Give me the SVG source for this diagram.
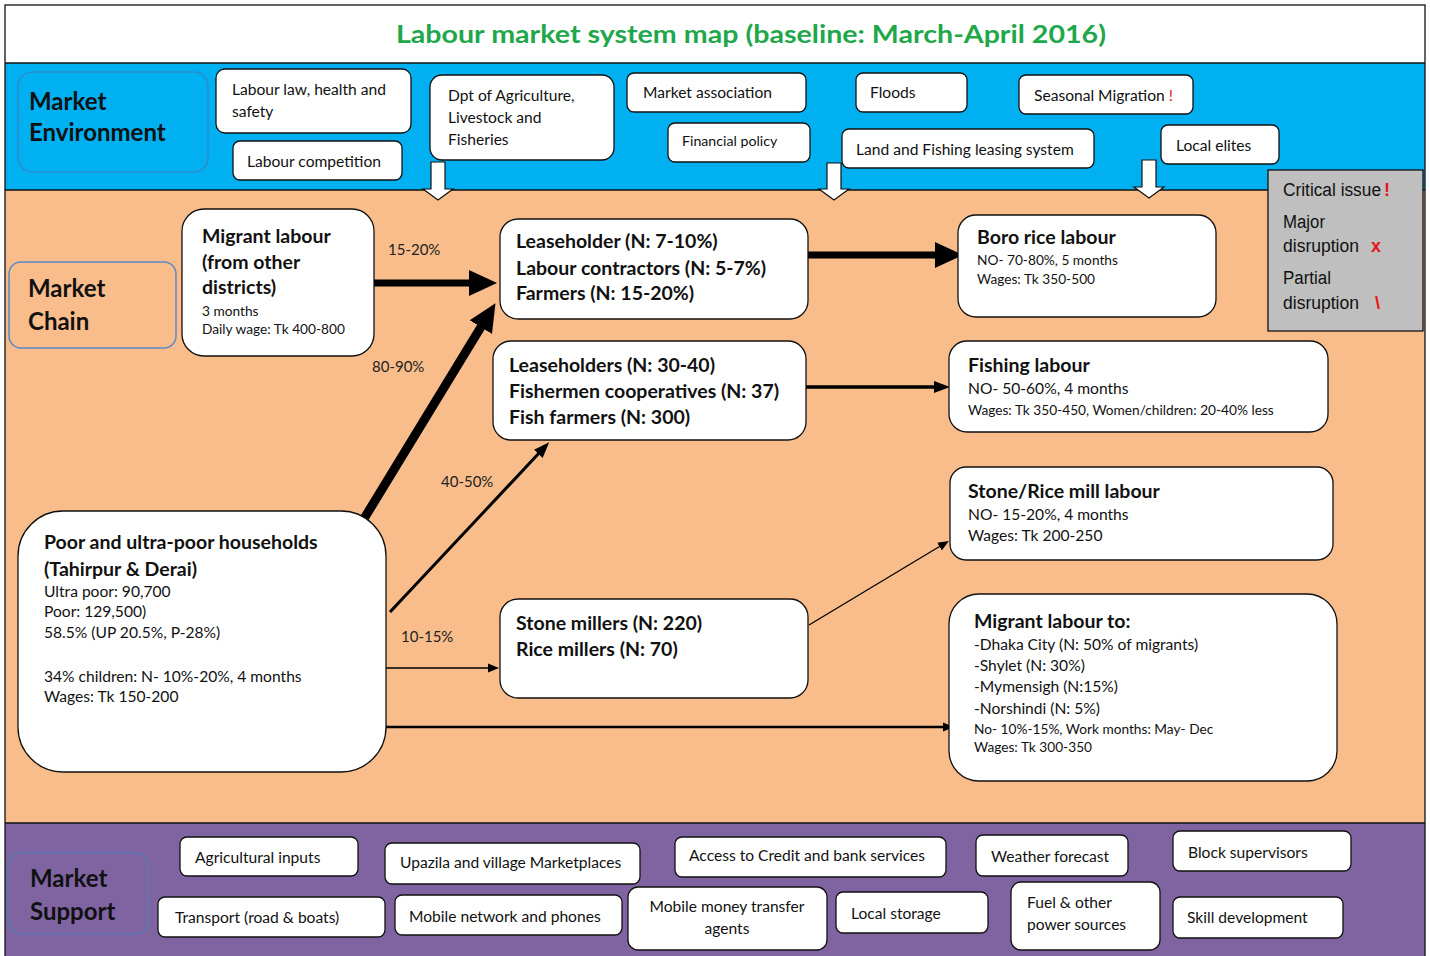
<svg xmlns="http://www.w3.org/2000/svg" width="1430" height="956" viewBox="0 0 1430 956">
<style>
text{font-family:Lato,"Open Sans","Liberation Sans",sans-serif;fill:#111}
.box{fill:#fff;stroke:#111;stroke-width:1.3}
.env{font-size:15.6px}
.hd{font-size:24px;font-weight:bold}
.nt{font-size:19.5px;font-weight:bold}
.sm{font-size:13.7px}
.md{font-size:15.6px}
.lbl{font-size:15px;fill:#222}
.red{fill:#e8161b}
.leg{font-size:18px;font-family:"Liberation Sans",Arial,sans-serif}
.blk{fill:#fff;stroke:#111;stroke-width:1.2}
</style>
<defs>
<marker id="big" markerUnits="userSpaceOnUse" markerWidth="30" markerHeight="28" refX="6" refY="14" orient="auto"><path d="M0,1 L28,14 L0,27 z" fill="#000"/></marker>
<marker id="mid" markerUnits="userSpaceOnUse" markerWidth="18" markerHeight="14" refX="4" refY="7" orient="auto"><path d="M0,1 L16,7 L0,13 z" fill="#000"/></marker>
<marker id="sml" markerUnits="userSpaceOnUse" markerWidth="12" markerHeight="10" refX="3" refY="5" orient="auto"><path d="M0,0.5 L11,5 L0,9.5 z" fill="#000"/></marker>
</defs>
<!-- bands -->
<rect x="5" y="5" width="1420" height="58" fill="#fff"/>
<rect x="5" y="63" width="1420" height="127" fill="#00b0f0"/>
<rect x="5" y="190" width="1420" height="633" fill="#f8bd8b"/>
<rect x="5" y="823" width="1420" height="133" fill="#8064a2"/>
<g stroke="#111" stroke-width="1.3" fill="none">
<rect x="5" y="5" width="1420" height="955"/>
<line x1="5" y1="63" x2="1425" y2="63"/>
<line x1="5" y1="190" x2="1425" y2="190"/>
<line x1="5" y1="823" x2="1425" y2="823"/>
</g>
<text x="751" y="43" text-anchor="middle" font-size="25" font-weight="bold" style="fill:#1fa74b" textLength="710" lengthAdjust="spacingAndGlyphs">Labour market system map (baseline: March-April 2016)</text>

<!-- section labels -->
<g id="label-environment">
<rect x="18" y="72" width="190" height="100" rx="14" fill="#00b0f0" stroke="#3f7fc0" stroke-width="1.2"/>
<text class="hd" x="29" y="110">Market</text>
<text class="hd" x="29" y="141">Environment</text>
</g>
<g id="label-chain">
<rect x="9" y="262" width="167" height="86" rx="12" fill="#f8bd8b" stroke="#5b8ac6" stroke-width="1.5"/>
<text class="hd" x="28" y="297">Market</text>
<text class="hd" x="28" y="330">Chain</text>
</g>
<g id="label-support">
<rect x="9" y="853" width="139" height="81" rx="12" fill="#8064a2" stroke="#4f7fb8" stroke-width="1.2"/>
<text class="hd" x="30" y="887">Market</text>
<text class="hd" x="30" y="920">Support</text>
</g>

<!-- environment boxes -->
<g id="env-labour-law"><rect class="box" x="216" y="69" width="195" height="64" rx="9"/><text class="env" x="232" y="95">Labour law, health and</text><text class="env" x="232" y="117">safety</text></g>
<g id="env-labour-competition"><rect class="box" x="233" y="141" width="169" height="39" rx="7"/><text class="env" x="247" y="167">Labour competition</text></g>
<g id="env-dpt"><rect class="box" x="430" y="75" width="184" height="85" rx="12"/><text class="env" x="448" y="101">Dpt of Agriculture,</text><text class="env" x="448" y="123">Livestock and</text><text class="env" x="448" y="145">Fisheries</text></g>
<g id="env-market-association"><rect class="box" x="627" y="73" width="179" height="39" rx="7"/><text class="env" x="643" y="98">Market association</text></g>
<g id="env-financial-policy"><rect class="box" x="668" y="123" width="142" height="39" rx="7"/><text x="682" y="146" font-size="14.2">Financial policy</text></g>
<g id="env-floods"><rect class="box" x="856" y="73" width="111" height="39" rx="7"/><text class="env" x="870" y="98">Floods</text></g>
<g id="env-seasonal-migration"><rect class="box" x="1019" y="75" width="174" height="39" rx="7"/><text class="env" x="1034" y="101">Seasonal Migration <tspan class="red">!</tspan></text></g>
<g id="env-land-fishing"><rect class="box" x="842" y="129" width="252" height="39" rx="7"/><text class="env" x="856" y="155">Land and Fishing leasing system</text></g>
<g id="env-local-elites"><rect class="box" x="1161" y="125" width="118" height="39" rx="7"/><text class="env" x="1176" y="151">Local elites</text></g>

<!-- block arrows down -->
<g id="influence-arrows">
<path class="blk" d="M431,162 H445 V189 H453 L438,200 L423,189 H431 Z"/>
<path class="blk" d="M827,163 H841 V189 H849 L834,200 L819,189 H827 Z"/>
<path class="blk" d="M1142,160 H1156 V187 H1164 L1149,198 L1134,187 H1142 Z"/>
</g>

<!-- legend -->
<g id="legend">
<rect x="1268" y="170" width="155" height="161" fill="#bfbfbf" stroke="#111" stroke-width="1.3"/>
<text class="leg" x="1283" y="196" textLength="98" lengthAdjust="spacingAndGlyphs">Critical issue</text><text class="leg red" x="1384" y="196" font-weight="bold">!</text>
<text class="leg" x="1283" y="228" textLength="42" lengthAdjust="spacingAndGlyphs">Major</text>
<text class="leg" x="1283" y="252" textLength="76" lengthAdjust="spacingAndGlyphs">disruption</text><text class="leg red" x="1371" y="252" font-weight="bold">x</text>
<text class="leg" x="1283" y="284" textLength="48" lengthAdjust="spacingAndGlyphs">Partial</text>
<text class="leg" x="1283" y="309" textLength="76" lengthAdjust="spacingAndGlyphs">disruption</text><text class="leg red" x="1375" y="309" font-weight="bold">\</text>
</g>

<!-- connectors -->
<g id="connectors" stroke="#000" fill="none">
<line x1="374" y1="283" x2="475" y2="283" stroke-width="7" marker-end="url(#big)"/>
<line x1="362" y1="522" x2="484" y2="322" stroke-width="9" marker-end="url(#big)"/>
<line x1="808" y1="255" x2="941" y2="255" stroke-width="7" marker-end="url(#big)"/>
<line x1="806" y1="387" x2="938" y2="387" stroke-width="3.5" marker-end="url(#mid)"/>
<line x1="390" y1="612" x2="541" y2="451" stroke-width="3" marker-end="url(#mid)"/>
<line x1="386" y1="668" x2="491" y2="668" stroke-width="1.5" marker-end="url(#sml)"/>
<line x1="809" y1="625" x2="942" y2="545" stroke-width="1.3" marker-end="url(#sml)"/>
<line x1="383" y1="727" x2="946" y2="727" stroke-width="2.5" marker-end="url(#sml)"/>
</g>
<g id="connector-labels">
<text class="lbl" x="388" y="255">15-20%</text>
<text class="lbl" x="372" y="372">80-90%</text>
<text class="lbl" x="441" y="487">40-50%</text>
<text class="lbl" x="401" y="642">10-15%</text>
</g>

<!-- chain nodes -->
<g id="node-migrant-labour-in"><rect class="box" x="182" y="209" width="192" height="147" rx="22"/>
<text class="nt" x="202" y="243">Migrant labour</text><text class="nt" x="202" y="269">(from other</text><text class="nt" x="202" y="294">districts)</text>
<text class="sm" x="202" y="316">3 months</text><text class="sm" x="202" y="334">Daily wage: Tk 400-800</text></g>

<g id="node-leaseholder"><rect class="box" x="500" y="219" width="308" height="100" rx="18"/>
<text class="nt" x="516" y="248">Leaseholder (N: 7-10%)</text><text class="nt" x="516" y="275">Labour contractors (N: 5-7%)</text><text class="nt" x="516" y="300">Farmers (N: 15-20%)</text></g>

<g id="node-fisher"><rect class="box" x="493" y="341" width="313" height="99" rx="18"/>
<text class="nt" x="509" y="372">Leaseholders (N: 30-40)</text><text class="nt" x="509" y="398">Fishermen cooperatives (N: 37)</text><text class="nt" x="509" y="424">Fish farmers (N: 300)</text></g>

<g id="node-stone-millers"><rect class="box" x="500" y="599" width="308" height="99" rx="18"/>
<text class="nt" x="516" y="630">Stone millers (N: 220)</text><text class="nt" x="516" y="656">Rice millers (N: 70)</text></g>

<g id="node-poor-households"><rect class="box" x="18" y="511" width="368" height="261" rx="45"/>
<text class="nt" x="44" y="549">Poor and ultra-poor households</text><text class="nt" x="44" y="576">(Tahirpur &amp; Derai)</text>
<text class="md" x="44" y="597">Ultra poor: 90,700</text><text class="md" x="44" y="617">Poor: 129,500)</text><text class="md" x="44" y="638">58.5% (UP 20.5%, P-28%)</text>
<text class="md" x="44" y="682">34% children: N- 10%-20%, 4 months</text><text class="md" x="44" y="702">Wages: Tk 150-200</text></g>

<g id="node-boro"><rect class="box" x="958" y="215" width="258" height="102" rx="18"/>
<text class="nt" x="977" y="244">Boro rice labour</text><text class="sm" x="977" y="265">NO- 70-80%, 5 months</text><text class="sm" x="977" y="284">Wages: Tk 350-500</text></g>

<g id="node-fishing"><rect class="box" x="949" y="341" width="379" height="91" rx="18"/>
<text class="nt" x="968" y="372">Fishing labour</text><text class="md" x="968" y="394">NO- 50-60%, 4 months</text><text class="sm" x="968" y="415">Wages: Tk 350-450, Women/children: 20-40% less</text></g>

<g id="node-mill-labour"><rect class="box" x="950" y="467" width="383" height="93" rx="16"/>
<text class="nt" x="968" y="498">Stone/Rice mill labour</text><text class="md" x="968" y="520">NO- 15-20%, 4 months</text><text class="md" x="968" y="541">Wages: Tk 200-250</text></g>

<g id="node-migrant-out"><rect class="box" x="949" y="594" width="388" height="187" rx="30"/>
<text class="nt" x="974" y="628">Migrant labour to:</text>
<text class="md" x="974" y="650">-Dhaka City (N: 50% of migrants)</text><text class="md" x="974" y="671">-Shylet (N: 30%)</text><text class="md" x="974" y="692">-Mymensigh (N:15%)</text><text class="md" x="974" y="714">-Norshindi (N: 5%)</text>
<text class="sm" x="974" y="734">No- 10%-15%, Work months: May- Dec</text><text class="sm" x="974" y="752">Wages: Tk 300-350</text></g>

<!-- support boxes -->
<g id="sup-agri"><rect class="box" x="180" y="837" width="178" height="39" rx="7"/><text class="env" x="195" y="863">Agricultural inputs</text></g>
<g id="sup-upazila"><rect class="box" x="385" y="843" width="255" height="41" rx="7"/><text class="env" x="400" y="868">Upazila and village Marketplaces</text></g>
<g id="sup-credit"><rect class="box" x="675" y="837" width="271" height="40" rx="7"/><text class="env" x="689" y="861">Access to Credit and bank services</text></g>
<g id="sup-weather"><rect class="box" x="976" y="835" width="152" height="41" rx="7"/><text class="env" x="991" y="862">Weather forecast</text></g>
<g id="sup-block"><rect class="box" x="1173" y="831" width="178" height="40" rx="7"/><text class="env" x="1188" y="858">Block supervisors</text></g>
<g id="sup-transport"><rect class="box" x="158" y="897" width="227" height="40" rx="7"/><text class="env" x="175" y="923">Transport (road &amp; boats)</text></g>
<g id="sup-mobile-network"><rect class="box" x="395" y="895" width="227" height="40" rx="7"/><text class="env" x="409" y="922">Mobile network and phones</text></g>
<g id="sup-mobile-money"><rect class="box" x="628" y="887" width="199" height="63" rx="10"/><text class="env" x="727" y="912" text-anchor="middle">Mobile money transfer</text><text class="env" x="727" y="934" text-anchor="middle">agents</text></g>
<g id="sup-storage"><rect class="box" x="836" y="892" width="152" height="41" rx="7"/><text class="env" x="851" y="919">Local storage</text></g>
<g id="sup-fuel"><rect class="box" x="1011" y="882" width="149" height="68" rx="10"/><text class="env" x="1027" y="908">Fuel &amp; other</text><text class="env" x="1027" y="930">power sources</text></g>
<g id="sup-skill"><rect class="box" x="1173" y="897" width="170" height="41" rx="7"/><text class="env" x="1187" y="923">Skill development</text></g>
</svg>
